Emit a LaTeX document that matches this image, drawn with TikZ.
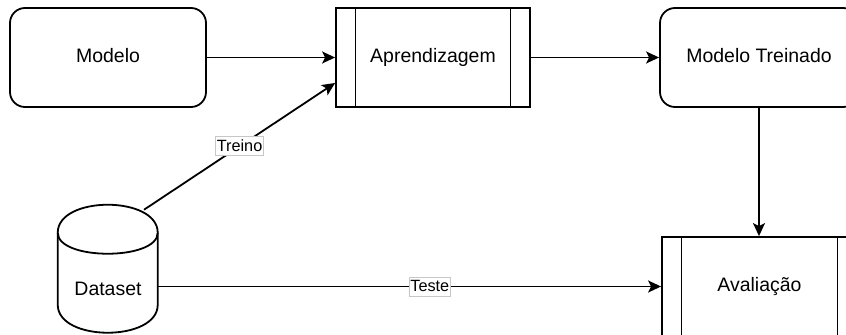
\documentclass[tikz,border=0pt]{standalone}
\usepackage{fontspec}
\setmainfont{Liberation Sans}
\usetikzlibrary{arrows.meta}

\tikzset{
  % one unit = one pixel of the drawing, y growing downwards
  base/.style={draw=black, line width=1.35pt, inner sep=0pt,
    font=\fontsize{14.6}{17}\selectfont, text=black,
    text height=10.5pt, text depth=3.1pt},
  roundbox/.style={base, rounded corners=11.25pt,
    minimum height=74.25pt},
  processbox/.style={base, minimum height=74.25pt,
    path picture={
      \draw[line width=1.35pt]
        ([xshift=14.6pt]path picture bounding box.north west) --
        ([xshift=14.6pt]path picture bounding box.south west)
        ([xshift=-14.6pt]path picture bounding box.north east) --
        ([xshift=-14.6pt]path picture bounding box.south east);}},
  dbbody/.style={inner sep=0pt, minimum width=75pt, minimum height=96pt,
    font=\fontsize{14.6}{17}\selectfont, text height=39pt, text depth=0pt},
  link/.style={draw=black, line width=1.35pt,
    -{Stealth[length=9.75pt, width=9pt, inset=2.25pt]}},
  edgelabel/.style={fill=white, draw=black!22, line width=0.6pt,
    font=\fontsize{12.2}{14}\selectfont, inner xsep=0.8pt, inner ysep=0.8pt,
    text height=10pt, text depth=2.6pt},
}

\begin{document}
\begin{tikzpicture}[x=0.75pt, y=-0.75pt]
  \path[use as bounding box, clip] (0,0) rectangle (846,335);

  % boxes of the flow
  \node[roundbox, minimum width=147pt]    (mod) at (108,57.5)   {Modelo};
  \node[processbox, minimum width=145.5pt] (apr) at (433,57.5)  {Aprendizagem};
  \node[roundbox, minimum width=148.5pt]  (mt)  at (759,57.5)   {Modelo Treinado};
  \node[processbox, minimum width=146.25pt] (ava) at (759.5,286.5) {Avaliação};

  % data store drawn as a cylinder around its text
  \node[dbbody] (ds) at (108,269) {Dataset};
  \begin{scope}[shift={(ds.north west)}]
    \draw[line width=1.35pt]
      (0,28) .. controls (0,-9.33) and (100,-9.33) .. (100,28)
      -- (100,100) .. controls (100,137.33) and (0,137.33) .. (0,100) -- cycle;
    \draw[line width=1.35pt]
      (0,28) .. controls (0,56) and (100,56) .. (100,28);
  \end{scope}

  % connectors
  \draw[link] (mod.east) -- (apr.west);
  \draw[link] (apr.east) -- (mt.west);
  \draw[link] (mt.south) -- (mt.south |- ava.north);
  \draw[link] ([xshift=27pt,yshift=-3.75pt]ds.north) --
    node[edgelabel] {Treino} ([yshift=-19.1pt]apr.west);
  \draw[link] (ds.east |- ava.west) --
    node[edgelabel, pos=0.54] {Teste} (ava.west);
\end{tikzpicture}
\end{document}
